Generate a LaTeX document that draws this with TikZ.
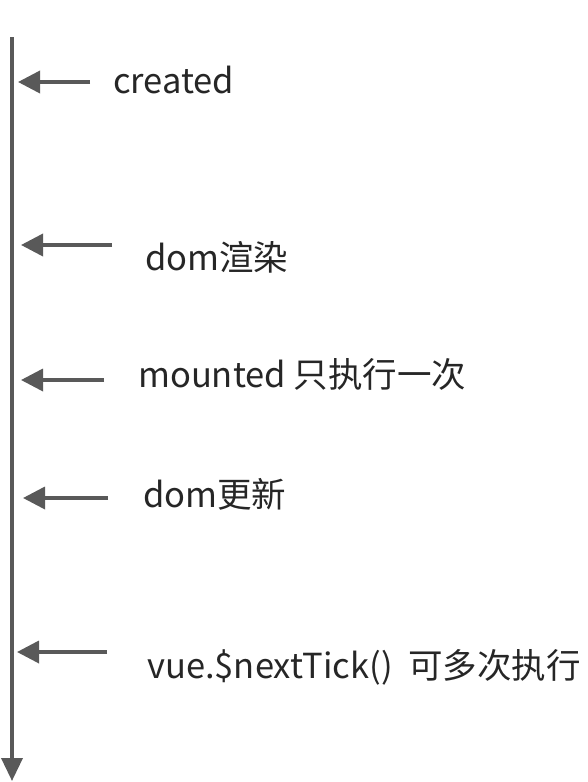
\documentclass[tikz,border=0pt]{standalone}
\usepackage{xcolor}
\usepackage{fontspec}
\setmainfont{Noto Sans CJK SC}
\usepackage{tikz}
\usetikzlibrary{arrows.meta}
\definecolor{mygray}{RGB}{89,89,89}
\definecolor{mytext}{RGB}{38,38,38}
\tikzset{
  timeline/.style={line width=3.6pt,color=mygray,-{Triangle[length=23pt,width=21pt]}},
  callarrow/.style={line width=3.6pt,color=mygray,-{Triangle[length=22pt,width=22pt]}},
  steplabel/.style={anchor=base west,inner sep=0pt,text=mytext,font=\fontsize{34.5}{42}\selectfont}
}

\begin{document}
\begin{tikzpicture}[x=1pt,y=-1pt]
  \useasboundingbox (0,0) rectangle (588,782);

  % Time axis
  \coordinate (start) at (12,37);
  \coordinate (finish) at (12,781);
  \draw[timeline] (start) -- (finish);

  % Labels
  \node[steplabel] (created) at (113,93) {created};
  \node[steplabel] (render) at (145,270) {dom渲染};
  \node[steplabel] (mounted) at (138,387) {mounted 只执行一次};
  \node[steplabel] (update) at (143,507) {dom更新};
  \node[steplabel] (nexttick) at (147,678) {vue.\$nextTick()\ \ 可多次执行};

  % Arrow ends
  \coordinate (createdfrom) at (90,82);   \coordinate (createdto) at (18,82);
  \coordinate (renderfrom) at (112,245);  \coordinate (renderto) at (21,245);
  \coordinate (mountedfrom) at (104,380); \coordinate (mountedto) at (21,380);
  \coordinate (updatefrom) at (108,498);  \coordinate (updateto) at (23,498);
  \coordinate (tickfrom) at (107,652);    \coordinate (tickto) at (17,652);

  % Arrows pointing at the axis
  \draw[callarrow] (createdfrom) -- (createdto);
  \draw[callarrow] (renderfrom) -- (renderto);
  \draw[callarrow] (mountedfrom) -- (mountedto);
  \draw[callarrow] (updatefrom) -- (updateto);
  \draw[callarrow] (tickfrom) -- (tickto);
\end{tikzpicture}
\end{document}
